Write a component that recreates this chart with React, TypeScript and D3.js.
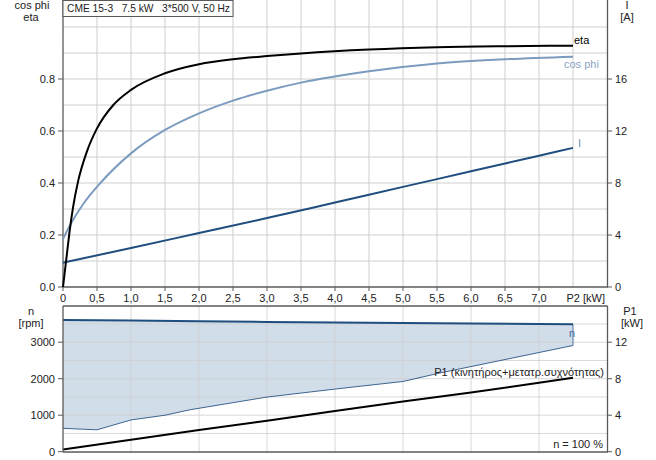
import React from "react";
import * as d3 from "d3";

const TITLE = "CME 15-3   7.5 kW   3*500 V, 50 Hz";
const P2_TICKS = [0, 0.5, 1, 1.5, 2, 2.5, 3, 3.5, 4, 4.5, 5, 5.5, 6, 6.5, 7];
const LEFT_TOP_TICKS = [0, 0.2, 0.4, 0.6, 0.8];
const RIGHT_TOP_TICKS = [0, 4, 8, 12, 16];
const LEFT_BOT_TICKS = [0, 1000, 2000, 3000];
const RIGHT_BOT_TICKS = [0, 4, 8, 12];

const etaP2 = [0, 0.05, 0.1, 0.15, 0.225, 0.35, 0.5, 0.74, 1.0, 1.5, 2.0, 2.5, 3.0, 3.5, 4.5, 5.5, 6.5, 7.5];
const etaVal = [0, 0.11, 0.22, 0.31, 0.41, 0.52, 0.61, 0.70, 0.758, 0.822, 0.857, 0.876, 0.888, 0.898, 0.913, 0.922, 0.926, 0.928];

const cosP2 = [0, 0.13, 0.3, 0.55, 1.0, 1.5, 2.0, 2.5, 3.0, 3.5, 4.5, 5.5, 6.5, 7.5];
const cosVal = [0.185, 0.25, 0.32, 0.40, 0.514, 0.604, 0.668, 0.717, 0.755, 0.786, 0.830, 0.860, 0.876, 0.886];

const iP2 = [0, 1, 2, 3, 4, 5, 6, 7, 7.5];
const iVal = [1.87, 3.0, 4.15, 5.3, 6.5, 7.7, 8.9, 10.1, 10.7];

const nP2 = [0, 1, 2, 3, 4, 5, 6, 7, 7.5];
const nMax = [3610, 3595, 3575, 3555, 3540, 3525, 3510, 3500, 3490];
const nMinP2 = [0, 0.5, 1.0, 1.5, 1.87, 3.0, 4.0, 5.0, 5.54, 7.5];
const nMin = [640, 600, 870, 1000, 1150, 1497, 1716, 1924, 2155, 2910];

const p1P2 = [0, 1, 2, 3, 4, 5, 6, 7, 7.5];
const p1Val = [0.25, 1.3, 2.38, 3.4, 4.45, 5.5, 6.5, 7.55, 8.1];

const FONT = "'Liberation Sans', Arial, sans-serif";

export default function App() {
  const W = 656, H = 460;
  const x = d3.scaleLinear().domain([0, 8]).range([63, 607]);
  const yT = d3.scaleLinear().domain([0, 1.1]).range([287, 1]);
  const yI = d3.scaleLinear().domain([0, 22]).range([287, 1]);
  const yN = d3.scaleLinear().domain([0, 4000]).range([451.7, 305.7]);
  const yP = d3.scaleLinear().domain([0, 16]).range([451.7, 305.7]);

  const grid = "#cfcfcf";
  const axis = "#5a5a5a";

  const lineT = (xs: number[], ys: number[], ys2: (v: number) => number) =>
    d3.line<number>().x((_, i) => x(xs[i])).y((v) => ys2(v)).curve(d3.curveMonotoneX)(ys) || "";

  const etaPath = lineT(etaP2, etaVal, yT);
  const cosPath = lineT(cosP2, cosVal, yT);
  const iPath = lineT(iP2, iVal, yI);
  const nMaxPath = d3.line<number>().x((_, i) => x(nP2[i])).y((v) => yN(v))(nMax) || "";
  const nMinPath = d3.line<number>().x((_, i) => x(nMinP2[i])).y((v) => yN(v))(nMin) || "";
  const p1Path = d3.line<number>().x((_, i) => x(p1P2[i])).y((v) => yP(v))(p1Val) || "";

  const areaPts: [number, number][] = [
    ...nP2.map((p, i) => [x(p), yN(nMax[i])] as [number, number]),
    ...nMinP2.map((p, i) => [x(p), yN(nMin[i])] as [number, number]).reverse(),
  ];
  const areaPath = "M" + areaPts.map((p) => p.join(",")).join("L") + "Z";

  const vGridTop = d3.range(1, 16).map((k) => k * 0.5);
  const hGridTop = d3.range(1, 11).map((k) => k * 0.1);
  const vGridBot = d3.range(1, 8);
  const hGridBot = d3.range(1, 8).map((k) => k * 500);

  const fmt = (v: number) => v.toFixed(1).replace(".", ",");

  return (
    <svg width={W} height={H} style={{ position: "absolute", left: 0, top: 0, background: "#fff" }} fontFamily={FONT} fontSize={11}>
      <rect x={0} y={0} width={W} height={H} fill="#fff" />
      {vGridTop.map((v) => (
        <line key={"vt" + v} x1={x(v)} x2={x(v)} y1={0} y2={287} stroke={grid} strokeWidth={1} />
      ))}
      {hGridTop.map((v) => (
        <line key={"ht" + v} x1={63} x2={607} y1={yT(v)} y2={yT(v)} stroke={grid} strokeWidth={1} />
      ))}
      <line x1={63} x2={63} y1={0} y2={287} stroke={axis} strokeWidth={1.3} />
      <line x1={607.5} x2={607.5} y1={0} y2={287} stroke={axis} strokeWidth={1.3} />
      <line x1={63} x2={608} y1={287} y2={287} stroke={axis} strokeWidth={1.3} />
      {LEFT_TOP_TICKS.map((v) => (
        <g key={"lt" + v}>
          <line x1={58} x2={63} y1={yT(v)} y2={yT(v)} stroke={axis} />
          <text x={55} y={yT(v) + 4} textAnchor="end" fill="#222">{v.toFixed(1)}</text>
        </g>
      ))}
      {RIGHT_TOP_TICKS.map((v) => (
        <g key={"rt" + v}>
          <line x1={607} x2={612} y1={yI(v)} y2={yI(v)} stroke={axis} />
          <text x={615} y={yI(v) + 4} textAnchor="start" fill="#222">{v}</text>
        </g>
      ))}
      {P2_TICKS.map((v) => (
        <g key={"xt" + v}>
          <line x1={x(v)} x2={x(v)} y1={287} y2={291} stroke={axis} />
          <text x={x(v)} y={302} textAnchor="middle" fill="#222">{v === 0 ? "0" : fmt(v)}</text>
        </g>
      ))}
      <text x={605} y={302} textAnchor="end" fill="#222">P2 [kW]</text>
      <text x={32} y={9} textAnchor="middle" fill="#222">cos phi</text>
      <text x={31} y={21} textAnchor="middle" fill="#222">eta</text>
      <text x={627} y={9} textAnchor="middle" fill="#222">I</text>
      <text x={627} y={21} textAnchor="middle" fill="#222">[A]</text>

      <path d={iPath} fill="none" stroke="#1f4e7e" strokeWidth={2} />
      <path d={cosPath} fill="none" stroke="#7c9cbf" strokeWidth={2} />
      <path d={etaPath} fill="none" stroke="#000" strokeWidth={2} />
      <text x={574} y={44} fill="#000">eta</text>
      <text x={564} y={68} fill="#8aa5c4">cos phi</text>
      <text x={578} y={147} fill="#7290b4">I</text>

      <rect x={63} y={0.5} width={170} height={16} fill="#fff" stroke={axis} strokeWidth={1} />
      <text x={67} y={12} fill="#222" textLength={163} lengthAdjust="spacingAndGlyphs">{TITLE.replace(/ /g, "\u00a0")}</text>

      <path d={areaPath} fill="#d1dde9" stroke="none" />
      {vGridBot.map((v) => (
        <line key={"vb" + v} x1={x(v)} x2={x(v)} y1={306} y2={452} stroke={grid} strokeOpacity={0.8} />
      ))}
      {hGridBot.map((v) => (
        <line key={"hb" + v} x1={63} x2={607} y1={yN(v)} y2={yN(v)} stroke={grid} strokeOpacity={0.8} />
      ))}
      <path d={nMinPath} fill="none" stroke="#2a5585" strokeWidth={0.9} />
      <path d={nMaxPath} fill="none" stroke="#1f4e7e" strokeWidth={2} />
      <line x1={x(7.5)} x2={x(7.5)} y1={yN(nMax[nMax.length - 1])} y2={yN(nMin[nMin.length - 1])} stroke="#2a5585" strokeWidth={0.8} />
      <path d={p1Path} fill="none" stroke="#000" strokeWidth={2} />
      <line x1={63} x2={607.5} y1={306} y2={306} stroke={axis} strokeWidth={1.3} />
      <line x1={63} x2={63} y1={306} y2={452} stroke={axis} strokeWidth={1.3} />
      <line x1={607.5} x2={607.5} y1={306} y2={452} stroke={axis} strokeWidth={1.3} />
      <line x1={63} x2={608} y1={452} y2={452} stroke={axis} strokeWidth={1.3} />
      {LEFT_BOT_TICKS.map((v) => (
        <g key={"lb" + v}>
          <line x1={58} x2={63} y1={yN(v)} y2={yN(v)} stroke={axis} />
          <text x={55} y={yN(v) + 4} textAnchor="end" fill="#222">{v}</text>
        </g>
      ))}
      {RIGHT_BOT_TICKS.map((v) => (
        <g key={"rb" + v}>
          <line x1={607} x2={612} y1={yP(v)} y2={yP(v)} stroke={axis} />
          <text x={615} y={yP(v) + 4} textAnchor="start" fill="#222">{v}</text>
        </g>
      ))}
      <text x={31} y={315} textAnchor="middle" fill="#222">n</text>
      <text x={31} y={327} textAnchor="middle" fill="#222">[rpm]</text>
      <text x={630} y={315} textAnchor="middle" fill="#222">P1</text>
      <text x={632} y={327} textAnchor="middle" fill="#222">[kW]</text>
      <text x={575} y={337} textAnchor="end" fill="#4a6f9a">n</text>
      <text x={604} y={376} textAnchor="end" fill="#222">P1 (κινητήρος+μετατρ.συχνότητας)</text>
      <text x={603} y={448} textAnchor="end" fill="#222">n = 100 %</text>
    </svg>
  );
}
